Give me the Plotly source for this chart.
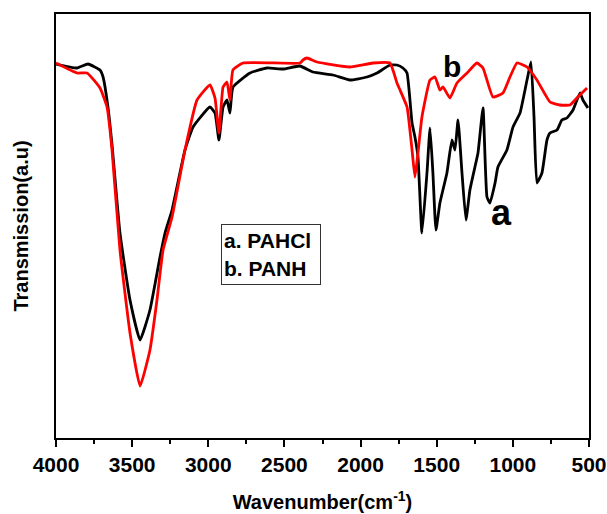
import plotly.graph_objects as go

# Curve a: PAHCl (black)
wn_a = [4000, 3862, 3790, 3711, 3691, 3659, 3632, 3580, 3514, 3448, 3383, 3317, 3284, 3238, 3153,
        3100, 2989, 2956, 2930, 2903, 2877, 2858, 2838, 2726, 2615, 2509, 2398, 2313, 2181, 2070,
        1958, 1892, 1807, 1761, 1722, 1695, 1662, 1643, 1623, 1597, 1564, 1544, 1525, 1505, 1479,
        1433, 1400, 1380, 1360, 1334, 1308, 1282, 1249, 1229, 1196, 1170, 1150, 1117, 1098, 1039,
        999, 953, 907, 881, 861, 842, 809, 776, 756, 710, 678, 645, 605, 559, 540, 507]
tr_a = [374, 370, 374, 368, 361, 331, 293, 205, 138, 98, 128, 181, 205, 228, 288,
        311, 331, 325, 298, 331, 338, 325, 351, 365, 370, 369, 372, 366, 363, 358,
        361, 365, 373, 373, 370, 365, 315, 301, 281, 205, 265, 310, 265, 208, 235,
        265, 298, 288, 318, 265, 218, 248, 271, 285, 330, 241, 235, 255, 271, 288,
        311, 325, 358, 376, 321, 255, 265, 298, 305, 308, 318, 320, 328, 345, 338, 330]

# Curve b: PANH (red)
wn_b = [4000, 3862, 3796, 3711, 3665, 3632, 3580, 3514, 3448, 3383, 3337, 3297, 3238, 3153, 3074,
        2989, 2956, 2930, 2903, 2877, 2858, 2838, 2772, 2398, 2378, 2352, 2286, 2070, 1919, 1807,
        1761, 1741, 1695, 1662, 1643, 1623, 1597, 1544, 1511, 1479, 1459, 1413, 1367, 1301, 1236,
        1196, 1131, 1065, 1019, 973, 907, 842, 756, 691, 625, 573, 513]
tr_b = [375, 365, 365, 350, 331, 288, 188, 105, 52, 88, 138, 188, 221, 288, 338,
        353, 340, 305, 351, 356, 338, 368, 375, 375, 378, 380, 376, 371, 375, 375,
        355, 348, 331, 288, 261, 285, 321, 358, 361, 348, 351, 340, 355, 365, 375,
        370, 341, 345, 361, 375, 371, 358, 336, 333, 333, 341, 350]

x_ticks = [4000, 3500, 3000, 2500, 2000, 1500, 1000, 500]
legend_lines = ["a. PAHCl", "b. PANH"]

FONT = "Arial, Liberation Sans, sans-serif"

fig = go.Figure()
fig.add_trace(go.Scatter(x=wn_a, y=tr_a, mode="lines", name="a. PAHCl",
                         line=dict(color="black", width=2.8, shape="spline", smoothing=0.4)))
fig.add_trace(go.Scatter(x=wn_b, y=tr_b, mode="lines", name="b. PANH",
                         line=dict(color="#ff0000", width=2.8, shape="spline", smoothing=0.4)))

fig.update_layout(
    width=607, height=514,
    margin=dict(l=56, r=18, t=14, b=76),
    paper_bgcolor="white", plot_bgcolor="white",
    showlegend=False,
    font=dict(family=FONT, color="black"),
)
fig.update_xaxes(
    range=[4000, 500], tickvals=x_ticks, ticktext=[str(v) for v in x_ticks],
    ticks="outside", ticklen=7, tickwidth=2, tickcolor="black", ticklabelstandoff=0,
    minor=dict(dtick=250, tick0=500, ticks="outside", ticklen=4, tickwidth=2, tickcolor="black"),
    showline=True, linewidth=2, linecolor="black", mirror=True,
    showgrid=False, zeroline=False, automargin=False,
    tickfont=dict(family=FONT, size=21, weight="bold"),
    title=dict(text="Wavenumber(cm<sup>-1</sup>)", font=dict(family=FONT, size=20, weight="bold"), standoff=20),
)
fig.update_yaxes(
    range=[0, 424], showticklabels=False, ticks="",
    showline=True, linewidth=2, linecolor="black", mirror=True,
    showgrid=False, zeroline=False, automargin=False,
    title=dict(text="Transmission(a.u)", font=dict(family=FONT, size=20, weight="bold"), standoff=20),
)

fig.add_annotation(x=1400, y=372, text="b", showarrow=False,
                   font=dict(family=FONT, size=30, weight="bold", color="black"))
fig.add_annotation(x=1072, y=226, text="a", showarrow=False,
                   font=dict(family=FONT, size=36, weight="bold", color="black"))
fig.add_annotation(xref="paper", yref="paper", x=0.403, y=0.4328, text="<br>".join(legend_lines),
                   showarrow=False, align="left", width=94, height=55,
                   bordercolor="#333333", borderwidth=1, borderpad=2, bgcolor="white",
                   font=dict(family=FONT, size=21, weight="bold", color="black"))

fig.write_html("out.html", config={"displayModeBar": False},
               post_script="document.body.style.margin='0px';")
